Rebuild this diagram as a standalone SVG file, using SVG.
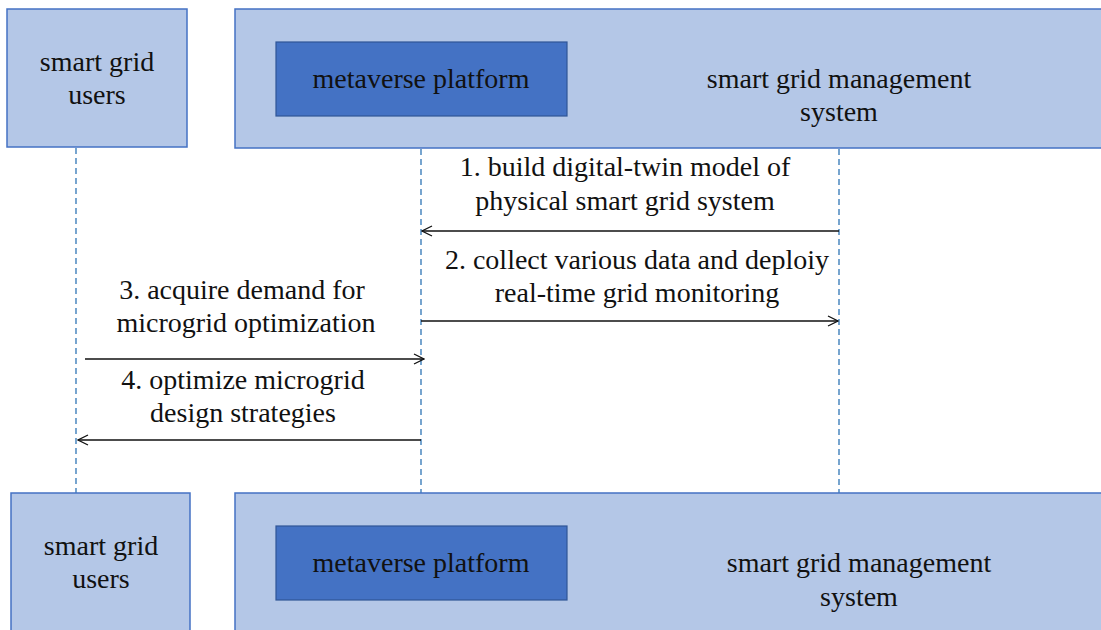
<svg xmlns="http://www.w3.org/2000/svg" width="1101" height="630" viewBox="0 0 1101 630" font-family="Liberation Serif, DejaVu Serif, serif">
<style>
.outer{fill:#B4C7E7;stroke:#4472C4;stroke-width:1.5}
.inner{fill:#4472C4;stroke:#2F5597;stroke-width:1.2}
.t{font-size:28px;fill:#111;text-anchor:middle}
.life{stroke:#2E75B6;stroke-width:1.3;stroke-dasharray:6,4;fill:none}
.msg{stroke:#111;stroke-width:1.3;fill:none;marker-end:url(#ah)}
</style>
<defs>
<marker id="ah" viewBox="0 0 12 12" refX="11" refY="6" markerWidth="12" markerHeight="12" markerUnits="userSpaceOnUse" orient="auto">
<path d="M1,1 L11,6 L1,11" fill="none" stroke="#111" stroke-width="1.3"/>
</marker>
</defs>
<g id="lifelines">
<line class="life" x1="76" y1="148" x2="76" y2="494"/>
<line class="life" x1="421" y1="149" x2="421" y2="493"/>
<line class="life" x1="839" y1="149" x2="839" y2="493"/>
</g>
<g id="users-top">
<rect class="outer" x="7" y="9" width="180" height="138"/>
<text class="t" x="97" y="71">smart grid</text>
<text class="t" x="97" y="104">users</text>
</g>
<g id="system-top">
<rect class="outer" x="235" y="9" width="870" height="139"/>
<text class="t" x="839" y="88">smart grid management</text>
<text class="t" x="839" y="121">system</text>
</g>
<g id="platform-top">
<rect class="inner" x="276" y="42" width="291" height="74"/>
<text class="t" x="421" y="88">metaverse platform</text>
</g>
<g id="users-bottom">
<rect class="outer" x="11" y="493" width="179" height="140"/>
<text class="t" x="101" y="555">smart grid</text>
<text class="t" x="101" y="588">users</text>
</g>
<g id="system-bottom">
<rect class="outer" x="235" y="493" width="870" height="140"/>
<text class="t" x="859" y="572">smart grid management</text>
<text class="t" x="859" y="606">system</text>
</g>
<g id="platform-bottom">
<rect class="inner" x="276" y="526" width="291" height="74"/>
<text class="t" x="421" y="572">metaverse platform</text>
</g>
<g id="connectors">
<line class="msg" x1="839" y1="231" x2="422" y2="231"/>
<line class="msg" x1="421" y1="321" x2="838" y2="321"/>
<line class="msg" x1="85" y1="359" x2="424" y2="359"/>
<line class="msg" x1="421" y1="440" x2="78" y2="440"/>
</g>
<g id="labels">
<text class="t" x="625" y="176">1. build digital-twin model of</text>
<text class="t" x="625" y="210">physical smart grid system</text>
<text class="t" x="637" y="269">2. collect various data and deploiy</text>
<text class="t" x="637" y="302">real-time grid monitoring</text>
<text class="t" x="242" y="299">3. acquire demand for</text>
<text class="t" x="246" y="332">microgrid optimization</text>
<text class="t" x="243" y="389">4. optimize microgrid</text>
<text class="t" x="243" y="422">design strategies</text>
</g>
</svg>
